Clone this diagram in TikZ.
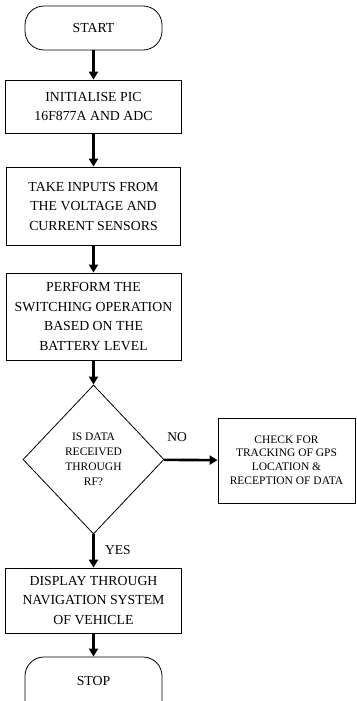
\documentclass[tikz,border=0pt]{standalone}
\usepackage{fontspec}
\setmainfont{Liberation Serif}
\usetikzlibrary{shapes.geometric,arrows.meta}
\begin{document}
\begin{tikzpicture}[x=1pt,y=-1pt,
  box/.style={draw,line width=0.8pt,align=center,inner sep=0pt,font=\fontsize{13.8}{19.5}\selectfont},
  smallbox/.style={draw,line width=0.8pt,align=center,inner sep=0pt,font=\fontsize{11.5}{16}\selectfont},
  term/.style={draw,rounded corners=19pt,line width=0.8pt,minimum width=137pt,minimum height=44pt,font=\fontsize{13.8}{19.5}\selectfont},
  decision/.style={draw,diamond,line width=0.8pt,align=center,inner sep=0pt,minimum width=141pt,minimum height=149pt,font=\fontsize{11.5}{15}\selectfont},
  flow/.style={line width=2.6pt,-{Triangle[length=8pt,width=9pt]}},
  lbl/.style={font=\fontsize{13.5}{16}\selectfont,inner sep=0pt}]
\useasboundingbox (0,0) rectangle (356,701);
\fill[white] (0,0) rectangle (356,701);
\node[term] (start) at (93.5,28) {START};
\node[box,minimum width=176pt,minimum height=53pt] (b1) at (93.5,106.5) {INITIALISE PIC\\16F877A AND ADC};
\node[box,minimum width=174pt,minimum height=78pt] (b2) at (93.5,206) {TAKE INPUTS FROM\\THE VOLTAGE AND\\CURRENT SENSORS};
\node[box,minimum width=175pt,minimum height=87pt] (b3) at (93.5,316.5) {PERFORM THE\\SWITCHING OPERATION\\BASED ON THE\\BATTERY LEVEL};
\node[decision] (d) at (93.5,459.5) {IS DATA\\RECEIVED\\THROUGH\\RF?};
\node[smallbox,minimum width=137pt,minimum height=85pt] (chk) at (286.5,460.5) {\raisebox{4pt}{\begin{tabular}{@{}c@{}}CHECK FOR\\[-2.2pt]TRACKING OF GPS\\[-2.2pt]LOCATION \&\\[-2.2pt]RECEPTION OF DATA\end{tabular}}};
\node[box,minimum width=176pt,minimum height=65pt] (b5) at (93.5,600.5) {DISPLAY THROUGH\\NAVIGATION SYSTEM\\OF VEHICLE};
\node[term,minimum height=70pt] (stop) at (93.5,692) {\raisebox{23pt}{STOP}};
\draw[flow] (start) -- (b1);
\draw[flow] (b1) -- (b2);
\draw[flow] (b2) -- (b3);
\draw[flow] (b3) -- (d);
\draw[flow] (d) -- (chk);
\draw[flow] (d) -- (b5);
\draw[flow] (b5) -- (stop);
\node[lbl] (no) at (177,437) {NO};
\node[lbl] (yes) at (118,550) {YES};
\end{tikzpicture}
\end{document}
